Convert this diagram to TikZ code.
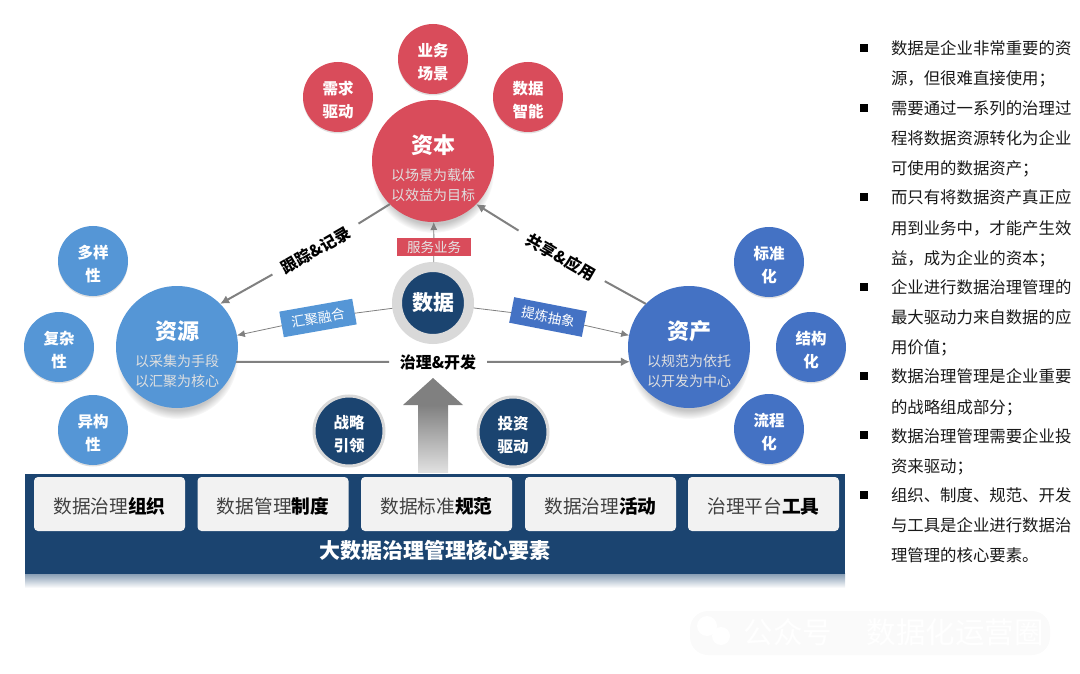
\documentclass[tikz,border=0pt]{standalone}
\usepackage{fontspec}
\setmainfont{Noto Sans CJK SC}
\usepackage{xcolor}
\usetikzlibrary{arrows.meta, positioning, shadows, fadings}
\definecolor{CapitalRed}{HTML}{D94C5B}
\definecolor{SourceBlue}{HTML}{5596D6}
\definecolor{AssetBlue}{HTML}{4472C4}
\definecolor{MainNavy}{HTML}{1B4470}
\definecolor{RingGray}{HTML}{D9D9D9}
\definecolor{LinkGray}{HTML}{808080}
\definecolor{BoxGray}{HTML}{F2F2F2}
\newcommand{\fs}[2]{\fontsize{#1}{#2}\selectfont}
\newcommand{\bigtext}[3]{\rule{0pt}{34pt}{\fs{22}{26}\bfseries #1}\\[7pt]{\color{white!88!black}#2}\\{\color{white!88!black}#3}}
\newcommand{\twotext}[2]{\rule{0pt}{19pt}#1\\#2}
\tikzset{
  >=latex,
  % Cerchi
  circ small/.style={circle,text=white,minimum size=70,inner sep=0,outer sep=0,align=center,font=\fs{15.5}{23}\bfseries,general shadow={shadow yshift=-1.5pt,opacity=.12,fill=black}},
  circ big/.style={circle,text=white,minimum size=122,inner sep=0,outer sep=0,align=center,font=\fs{14}{20},circular drop shadow={shadow xshift=0pt,shadow yshift=-11pt,shadow scale=1.0,opacity=.45}},
  circ navy/.style={circle,text=white,fill=MainNavy,draw=RingGray,align=center,inner sep=0,font=\fs{15.5}{23}\bfseries},
  % Etichette
  tag/.style={text=white,minimum width=74,minimum height=26,inner sep=0,outer sep=0,font=\fs{13.5}{16}},
  link label/.style={text=black,inner sep=0,outer sep=0,font=\fs{16}{18}\bfseries},
  element/.style={fill=BoxGray,rounded corners=4pt,minimum width=151,minimum height=54,inner sep=0,outer sep=0,text=black!75,font=\fs{18.7}{22},execute at begin node={\rule{0pt}{21pt}}},
  note/.style={anchor=north west,align=left,inner sep=0,outer sep=0,text=black!90,font=\fs{16.4}{30.2}},
  bullet/.style={fill=black,minimum size=8,inner sep=0,outer sep=0},
  % Connessioni
  connect/.style={thick,LinkGray,line width=2pt},
  connect arrow/.style={connect,-{Latex[length=9,width=9]}},
  thin link/.style={LinkGray,line width=.8pt},
  thin arrow/.style={thin link,-{Latex[length=8,width=7]}}
}
\begin{document}
\begin{tikzpicture}[x=1pt,y=-1pt]
  \useasboundingbox (0,0) rectangle (1080,674);

  % Fascia in basso
  \shade[top color=MainNavy!55,bottom color=white] (25,573) rectangle (845,588);
  \node[fill=MainNavy,minimum width=820,minimum height=100,inner sep=0,outer sep=0] (band) at (435,523.5) {};
  \node[text=white,inner sep=0,font=\fs{21}{24}\bfseries] (bandtitle) at (435,550) {大数据治理管理核心要素};
  \node[element] (el1) at (109.5,504) {数据治理\textbf{\textcolor{black}{组织}}};
  \node[element] (el2) at (273,504) {数据管理\textbf{\textcolor{black}{制度}}};
  \node[element] (el3) at (436.5,504) {数据标准\textbf{\textcolor{black}{规范}}};
  \node[element] (el4) at (600.5,504) {数据治理\textbf{\textcolor{black}{活动}}};
  \node[element] (el5) at (763.5,504) {治理平台\textbf{\textcolor{black}{工具}}};

  % Freccia grande
  \shade[top color=LinkGray,bottom color=white!88!black] (418,405) rectangle (448,472);
  \fill[LinkGray] (403,405) -- (433,378) -- (463,405) -- cycle;

  % Cerchi grandi
  \node[circ big,fill=CapitalRed] (ziben) at (433,161) {\bigtext{资本}{以场景为载体}{以效益为目标}};
  \node[circ big,fill=SourceBlue] (ziyuan) at (177,347) {\bigtext{资源}{以采集为手段}{以汇聚为核心}};
  \node[circ big,fill=AssetBlue] (zichan) at (689,347) {\bigtext{资产}{以规范为依托}{以开发为中心}};

  \node[circ small,fill=CapitalRed] (yewu) at (433,59) {\twotext{业务}{场景}};
  \node[circ small,fill=CapitalRed] (xuqiu) at (338,97) {\twotext{需求}{驱动}};
  \node[circ small,fill=CapitalRed] (zhineng) at (528,97) {\twotext{数据}{智能}};

  \node[circ small,fill=SourceBlue] (duoyang) at (93,261) {\twotext{多样}{性}};
  \node[circ small,fill=SourceBlue] (fuza) at (59,347) {\twotext{复杂}{性}};
  \node[circ small,fill=SourceBlue] (yigou) at (93,430) {\twotext{异构}{性}};

  \node[circ small,fill=AssetBlue] (biaozhun) at (769,262) {\twotext{标准}{化}};
  \node[circ small,fill=AssetBlue] (jiegou) at (811,347) {\twotext{结构}{化}};
  \node[circ small,fill=AssetBlue] (liucheng) at (769,429) {\twotext{流程}{化}};

  % Cerchi scuri
  \node[circ navy,minimum size=72,line width=10pt,font=\fs{21}{24}\bfseries] (shuju) at (433,303) {数据};
  \node[circ navy,minimum size=70,line width=3pt] (zhanlue) at (349,431) {\twotext{战略}{引领}};
  \node[circ navy,minimum size=70,line width=3pt] (touzi) at (513,432) {\twotext{投资}{驱动}};

  % Etichette
  \node[tag,fill=CapitalRed,minimum height=18,text=white!90!black] (fuwu) at (434,247) {服务业务};
  \node[tag,fill=SourceBlue,rotate=10] (huiju) at (318,318) {汇聚融合};
  \node[tag,fill=AssetBlue,rotate=-11] (tilian) at (548,317) {提炼抽象};
  \node[link label,rotate=30,minimum width=100,minimum height=20] (genzong) at (316,250) {跟踪\&记录};
  \node[link label,rotate=-30,minimum width=100,minimum height=20] (gongxiang) at (561,257) {共享\&应用};
  \node[link label,minimum width=98] (zhili) at (438,362) {\raisebox{-2pt}{治理\&开发}};

  % Connessioni
  \draw[connect] (genzong) -- (ziben.225);
  \draw[connect arrow] (genzong) -- (ziyuan.45);
  \draw[connect arrow] (gongxiang) -- (ziben.-45);
  \draw[connect] (gongxiang) -- (zichan.135);
  \draw[connect] (ziyuan.-14) -- (zhili);
  \draw[connect arrow] (zhili) -- (zichan.194);
  \draw[thin link] (shuju) -- (fuwu);
  \draw[thin arrow] (fuwu) -- (ziben);
  \draw[thin link] (shuju) -- (huiju);
  \draw[thin arrow] (huiju) -- (ziyuan.11);
  \draw[thin link] (shuju) -- (tilian);
  \draw[thin arrow] (tilian) -- (zichan.169);

  % Testo a destra
  \node[bullet] (b1) at (864,48) {};
  \node[bullet] (b2) at (864,108) {};
  \node[bullet] (b3) at (864,197) {};
  \node[bullet] (b4) at (864,287) {};
  \node[bullet] (b5) at (864,376) {};
  \node[bullet] (b6) at (864,435) {};
  \node[bullet] (b7) at (864,495) {};
  \node[note] (note1) at (891,40.5) {数据是企业非常重要的资\\源，但很难直接使用；};
  \node[note] (note2) at (891,100.5) {需要通过一系列的治理过\\程将数据资源转化为企业\\可使用的数据资产；};
  \node[note] (note3) at (891,190) {而只有将数据资产真正应\\用到业务中，才能产生效\\益，成为企业的资本；};
  \node[note] (note4) at (891,279.5) {企业进行数据治理管理的\\最大驱动力来自数据的应\\用价值；};
  \node[note] (note5) at (891,369) {数据治理管理是企业重要\\的战略组成部分；};
  \node[note] (note6) at (891,428.5) {数据治理管理需要企业投\\资来驱动；};
  \node[note] (note7) at (891,487.5) {组织、制度、规范、开发\\与工具是企业进行数据治\\理管理的核心要素。};

  % Filigrana
  \node[fill=black!2,rounded corners=18pt,minimum width=360,minimum height=44,inner sep=0] (mark) at (870,633) {};
  \node[text=white,inner sep=0,font=\fs{29.5}{32}] (marka) at (788,632) {公众号};
  \node[text=white,inner sep=0,font=\fs{29.5}{32}] (markb) at (955,632) {数据化运营圈};
  \fill[white] (707,626) circle (10);
  \fill[white] (721,636) circle (9);
\end{tikzpicture}
\end{document}
